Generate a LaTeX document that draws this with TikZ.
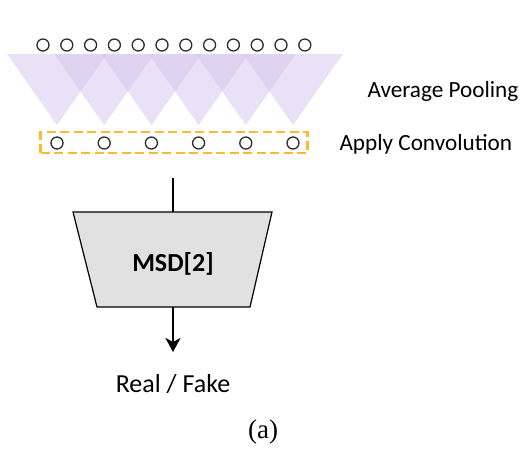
\documentclass[tikz,border=0pt]{standalone}
\usetikzlibrary{arrows.meta}
\usepackage{fontspec}
\setmainfont{Carlito}
\newfontfamily\capfont{Liberation Serif}
\definecolor{tripurple}{RGB}{212,196,236}
\definecolor{dashorange}{RGB}{252,186,45}
\definecolor{msdgray}{RGB}{225,225,225}
\definecolor{circgray}{RGB}{45,45,45}
\begin{document}
\begin{tikzpicture}[x=1pt,y=-1pt,
  dot/.style={circle,draw=circgray,line width=1.3pt,minimum size=12pt,inner sep=0pt},
  tri/.style={fill=tripurple,fill opacity=0.5},
  label/.style={font=\fontsize{23.2}{26}\selectfont,anchor=west},
  conn/.style={line width=2.8pt},
  msdshape/.style={fill=msdgray,draw=black,line width=1.2pt}]
\useasboundingbox (0,0) rectangle (526,459);
% triangles
\foreach \i in {0,...,5}{
  \fill[tri] ({57+47.2*\i-50},54) -- ({57+47.2*\i+50},54) -- ({57+47.2*\i},125) -- cycle;
}
% top circles
\foreach \i in {1,...,12}{
  \node[dot] (t\i) at ({43+23.8*(\i-1)},45) {};
}
% lower circles
\foreach \i in {1,...,6}{
  \node[dot] (b\i) at ({57+47.2*(\i-1)},143) {};
}
\node[draw=dashorange,dash pattern=on 9pt off 4.5pt,line width=2.3pt,
  minimum width=267pt,minimum height=21pt,inner sep=0pt] (conv) at (174,142.5) {};
\node[label] (avg) at (364,91) {Average Pooling};
\node[label] (apply) at (336,144) {Apply Convolution};
% MSD trapezoid
\draw[msdshape] (73,212) -- (272,212) -- (250,307) -- (97,307) -- cycle;
\node[font=\fontsize{26}{30}\selectfont\bfseries] (msd) at (173,264) {MSD[2]};
\coordinate (msdtop) at (173,212);
\coordinate (msdbot) at (173,307);
\coordinate (in) at (173,178);
\coordinate (outtip) at (173,352);
\node[font=\fontsize{26}{30}\selectfont] (out) at (173,384) {Real / Fake};
\draw[conn] (in) -- (msdtop);
\draw[conn,-{Stealth[length=14pt,width=15pt,inset=4pt]}] (msdbot) -- (outtip);
\node[font=\capfont\fontsize{27}{30}\selectfont] (cap) at (263,432) {(a)};
\end{tikzpicture}
\end{document}
